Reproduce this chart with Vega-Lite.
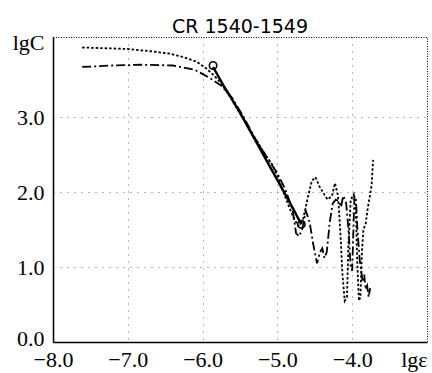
{
  "$schema": "https://vega.github.io/schema/vega-lite/v6.json",
  "width": 374,
  "height": 305,
  "autosize": "none",
  "padding": {"left": 53, "top": 37, "right": 5, "bottom": 31},
  "background": "white",
  "title": {"text": "CR 1540-1549", "font": "DejaVu Sans", "fontSize": 19, "fontWeight": "normal", "color": "black", "offset": 0, "dy": 6},
  "config": {
    "view": {"stroke": "black", "strokeDash": [1, 1.5], "strokeWidth": 1},
    "axis": {
      "domainColor": "black", "domainWidth": 1.5, "ticks": false,
      "labelFont": "Liberation Serif", "labelFontSize": 22, "labelColor": "black",
      "gridColor": "#333", "gridDash": [1, 6], "gridWidth": 1, "title": null
    }
  },
  "datasets": {
    "a": [
      {"x": -7.61, "y": 3.93}, {"x": -7.3, "y": 3.92}, {"x": -7.0, "y": 3.91}, {"x": -6.7, "y": 3.88},
      {"x": -6.45, "y": 3.85}, {"x": -6.25, "y": 3.8}, {"x": -6.08, "y": 3.74}, {"x": -5.95, "y": 3.65},
      {"x": -5.85, "y": 3.56}, {"x": -5.75, "y": 3.45}, {"x": -5.65, "y": 3.3}, {"x": -5.55, "y": 3.13},
      {"x": -5.45, "y": 2.97}, {"x": -5.35, "y": 2.8}, {"x": -5.25, "y": 2.64}, {"x": -5.15, "y": 2.48},
      {"x": -5.07, "y": 2.37}, {"x": -5.0, "y": 2.22}, {"x": -4.92, "y": 2.0}, {"x": -4.85, "y": 1.82},
      {"x": -4.78, "y": 1.65}, {"x": -4.72, "y": 1.55}, {"x": -4.66, "y": 1.62}, {"x": -4.6, "y": 1.9},
      {"x": -4.54, "y": 2.15}, {"x": -4.49, "y": 2.2}, {"x": -4.44, "y": 2.08}, {"x": -4.38, "y": 1.98},
      {"x": -4.33, "y": 1.9}, {"x": -4.27, "y": 1.95}, {"x": -4.23, "y": 2.12}, {"x": -4.19, "y": 1.95},
      {"x": -4.16, "y": 1.5}, {"x": -4.13, "y": 0.9}, {"x": -4.1, "y": 0.55}, {"x": -4.07, "y": 0.6},
      {"x": -4.05, "y": 1.3}, {"x": -4.02, "y": 1.9}, {"x": -3.98, "y": 1.97}, {"x": -3.95, "y": 1.7},
      {"x": -3.93, "y": 1.0}, {"x": -3.91, "y": 0.55}, {"x": -3.89, "y": 0.6}, {"x": -3.87, "y": 1.2},
      {"x": -3.85, "y": 1.5}, {"x": -3.82, "y": 1.58}, {"x": -3.79, "y": 1.8}, {"x": -3.76, "y": 1.97},
      {"x": -3.74, "y": 2.1}, {"x": -3.73, "y": 2.28}, {"x": -3.72, "y": 2.43}
    ],
    "b": [
      {"x": -7.61, "y": 3.67}, {"x": -7.2, "y": 3.69}, {"x": -6.8, "y": 3.7}, {"x": -6.4, "y": 3.69},
      {"x": -6.1, "y": 3.63}, {"x": -5.9, "y": 3.52}, {"x": -5.75, "y": 3.42}, {"x": -5.6, "y": 3.25},
      {"x": -5.45, "y": 3.0}, {"x": -5.3, "y": 2.72}, {"x": -5.15, "y": 2.48}, {"x": -5.0, "y": 2.25},
      {"x": -4.9, "y": 2.05}, {"x": -4.8, "y": 1.78}, {"x": -4.75, "y": 1.45}, {"x": -4.71, "y": 1.41},
      {"x": -4.67, "y": 1.5}, {"x": -4.62, "y": 1.75}, {"x": -4.57, "y": 1.6}, {"x": -4.52, "y": 1.3},
      {"x": -4.47, "y": 1.05}, {"x": -4.43, "y": 1.2}, {"x": -4.4, "y": 1.25}, {"x": -4.37, "y": 1.12},
      {"x": -4.34, "y": 1.2}, {"x": -4.3, "y": 1.6}, {"x": -4.26, "y": 1.85}, {"x": -4.22, "y": 1.9},
      {"x": -4.18, "y": 1.88}, {"x": -4.15, "y": 1.8}, {"x": -4.12, "y": 1.95}, {"x": -4.08, "y": 1.85},
      {"x": -4.05, "y": 1.5}, {"x": -4.02, "y": 1.0}, {"x": -4.0, "y": 0.95}, {"x": -3.97, "y": 1.95},
      {"x": -3.95, "y": 1.9}, {"x": -3.93, "y": 1.5}, {"x": -3.9, "y": 1.1}, {"x": -3.88, "y": 0.95},
      {"x": -3.86, "y": 0.8}, {"x": -3.84, "y": 0.9}, {"x": -3.82, "y": 0.7}, {"x": -3.8, "y": 0.75},
      {"x": -3.78, "y": 0.6}, {"x": -3.76, "y": 0.72}
    ],
    "c": [
      {"x": -5.86, "y": 3.67}, {"x": -5.72, "y": 3.42}, {"x": -5.62, "y": 3.26}, {"x": -5.5, "y": 3.06},
      {"x": -5.35, "y": 2.79}, {"x": -5.2, "y": 2.52}, {"x": -5.05, "y": 2.25}, {"x": -4.9, "y": 1.98},
      {"x": -4.78, "y": 1.76}, {"x": -4.68, "y": 1.57}
    ],
    "ends": [
      {"x": -5.86, "y": 3.69}, {"x": -4.68, "y": 1.57}
    ]
  },
  "encoding": {
    "x": {
      "field": "x", "type": "quantitative",
      "scale": {"domain": [-8, -3], "nice": false, "zero": false},
      "axis": {
        "values": [-8, -7, -6, -5, -4, -3],
        "labelFont": "Liberation Serif",
        "labelExpr": "datum.value == -3 ? 'lgε' : format(datum.value, '.1f')",
        "labelAlign": {"condition": {"test": "datum.value == -3", "value": "right"}, "value": "center"},
        "labelPadding": 7,
        "gridOpacity": {"condition": {"test": "datum.value == -3 || datum.value == -8", "value": 0}, "value": 0.7}
      }
    },
    "y": {
      "field": "y", "type": "quantitative",
      "scale": {"domain": [0, 4.07], "nice": false, "zero": false},
      "axis": {
        "values": [0, 1, 2, 3, 4],
        "labelFont": "Liberation Serif",
        "labelExpr": "datum.value == 4 ? 'lgC' : format(datum.value, '.1f')",
        "labelPadding": 9,
        "labelOffset": {"condition": {"test": "datum.value == 0", "value": -4}, "value": 0},
        "gridOpacity": {"condition": {"test": "datum.value == 4 || datum.value == 0", "value": 0}, "value": 0.7}
      }
    }
  },
  "layer": [
    {"data": {"name": "a"}, "mark": {"type": "line", "color": "black", "strokeWidth": 1.8, "strokeDash": [2.5, 2]}},
    {"data": {"name": "b"}, "mark": {"type": "line", "color": "black", "strokeWidth": 1.8, "strokeDash": [9, 3, 2, 3]}},
    {"data": {"name": "c"}, "mark": {"type": "line", "color": "black", "strokeWidth": 2.4}},
    {"data": {"name": "ends"}, "mark": {"type": "point", "shape": "circle", "filled": false, "size": 55, "stroke": "black", "strokeWidth": 1.6, "opacity": 1}}
  ]
}
